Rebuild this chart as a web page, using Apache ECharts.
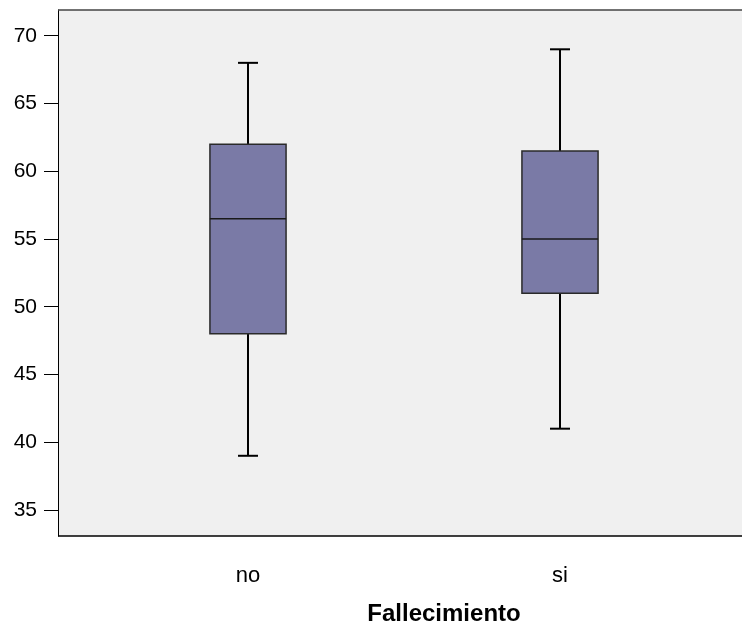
<!DOCTYPE html>
<html>
<head>
<meta charset="utf-8">
<script src="https://cdn.jsdelivr.net/npm/echarts@6/dist/echarts.min.js"></script>
<style>
html,body{margin:0;padding:0;background:#ffffff;}
#chart{width:742px;height:632px;}
</style>
</head>
<body>
<div id="chart"></div>
<script>
const categories = ['no', 'si'];
const mins = [39, 41];
const q1s = [48, 51];
const medians = [56.5, 55];
const q3s = [62, 61.5];
const maxs = [68, 69];
const yTicks = [35, 40, 45, 50, 55, 60, 65, 70];
const xTitle = 'Fallecimiento';

const FONT = '"Liberation Sans", Arial, sans-serif';
const data = categories.map((c, i) => [i, mins[i], q1s[i], medians[i], q3s[i], maxs[i]]);

function renderItem(params, api) {
  const idx = api.value(0);
  const band = api.size([1, 0])[0];
  const boxW = band * 0.244;
  const capW = band * 0.064;
  const pMin = api.coord([idx, api.value(1)]);
  const pQ1 = api.coord([idx, api.value(2)]);
  const pMed = api.coord([idx, api.value(3)]);
  const pQ3 = api.coord([idx, api.value(4)]);
  const pMax = api.coord([idx, api.value(5)]);
  const cx = pMed[0];
  const lineStyle = { stroke: '#000000', lineWidth: 2 };
  return {
    type: 'group',
    children: [
      { type: 'line', shape: { x1: cx, y1: pMax[1], x2: cx, y2: pQ3[1] }, style: lineStyle },
      { type: 'line', shape: { x1: cx, y1: pQ1[1], x2: cx, y2: pMin[1] }, style: lineStyle },
      { type: 'line', shape: { x1: cx - capW / 2, y1: pMax[1], x2: cx + capW / 2, y2: pMax[1] }, style: lineStyle },
      { type: 'line', shape: { x1: cx - capW / 2, y1: pMin[1], x2: cx + capW / 2, y2: pMin[1] }, style: lineStyle },
      { type: 'rect', shape: { x: cx - boxW / 2, y: pQ3[1], width: boxW, height: pQ1[1] - pQ3[1] },
        style: { fill: '#7a7aa6', stroke: '#2a2a2a', lineWidth: 1.5 } },
      { type: 'line', shape: { x1: cx - boxW / 2, y1: pMed[1], x2: cx + boxW / 2, y2: pMed[1] },
        style: { stroke: '#1a1a1a', lineWidth: 1.5 } }
    ]
  };
}

const chart = echarts.init(document.getElementById('chart'), null, { renderer: 'canvas' });
chart.setOption({
  animation: false,
  backgroundColor: '#ffffff',
  textStyle: { fontFamily: FONT },
  grid: { left: 92, right: 26, top: 10, bottom: 96, containLabel: false },
  graphic: [
    { type: 'rect', z: -10, silent: true, shape: { x: 58, y: 10, width: 684, height: 526 },
      style: { fill: '#f0f0f0' } },
    { type: 'line', z: 100, silent: true, shape: { x1: 58, y1: 10, x2: 742, y2: 10 },
      style: { stroke: '#444444', lineWidth: 1.5 } },
    { type: 'line', z: 100, silent: true, shape: { x1: 58, y1: 536, x2: 742, y2: 536 },
      style: { stroke: '#000000', lineWidth: 1.5 } },
    { type: 'text', z: 100, silent: true,
      style: { text: xTitle, x: 444, y: 614, align: 'center', verticalAlign: 'middle',
        font: 'bold 24px ' + FONT, fill: '#000000' } }
  ],
  xAxis: {
    type: 'category',
    data: categories,
    boundaryGap: true,
    axisLine: { show: false },
    axisTick: { show: false },
    splitLine: { show: false },
    axisLabel: { color: '#000000', fontSize: 22, fontFamily: FONT, margin: 29 }
  },
  yAxis: {
    type: 'value',
    min: 33.08,
    max: 71.9,
    offset: 34,
    axisLine: { show: true, lineStyle: { color: '#000000', width: 1 } },
    axisTick: { show: true, length: 14, lineStyle: { color: '#000000', width: 1 }, customValues: yTicks },
    axisLabel: { color: '#000000', fontSize: 21, fontFamily: FONT, margin: 21, customValues: yTicks },
    splitLine: { show: false }
  },
  series: [{
    type: 'custom',
    renderItem: renderItem,
    data: data,
    encode: { x: 0, y: [1, 2, 3, 4, 5] },
    clip: false
  }]
});
</script>
</body>
</html>
